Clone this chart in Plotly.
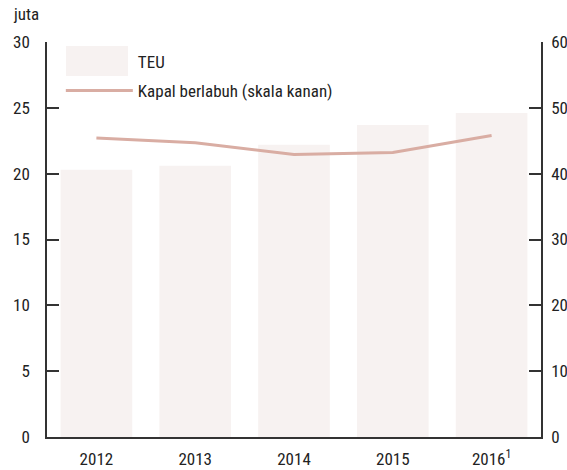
import plotly.graph_objects as go

years = ["2012", "2013", "2014", "2015", "2016<sup>1</sup>"]
teu = [20.3, 20.6, 22.2, 23.7, 24.6]
kapal = [45.4, 44.7, 42.9, 43.2, 45.8]

FONT = "Roboto Condensed, Arial Narrow, Liberation Sans Narrow, sans-serif"
AX = "#333333"
BAR = "#f7f2f1"

fig = go.Figure()
fig.add_trace(go.Bar(x=years, y=teu, name="TEU", marker=dict(color=BAR, line=dict(width=0)),
                     width=0.725, yaxis="y", legend="legend"))
fig.add_trace(go.Scatter(x=years, y=kapal, name="Kapal berlabuh (skala kanan)", mode="lines",
                         line=dict(color="#d9ada3", width=3), yaxis="y2", legend="legend2"))

leg = dict(xanchor="left", yanchor="middle", bgcolor="rgba(0,0,0,0)",
           font=dict(size=17), itemwidth=67)

fig.update_layout(
    width=567, height=470,
    margin=dict(l=47, r=26, t=42, b=33),
    paper_bgcolor="white", plot_bgcolor="white",
    font=dict(family=FONT, size=17, color="#222222"),
    showlegend=True,
    legend=dict(x=0.028, y=0.949, **leg),
    legend2=dict(x=0.028, y=0.876, **leg),
    xaxis=dict(showline=True, linecolor=AX, linewidth=1.5, ticks="", showgrid=False,
               ticklabelstandoff=6, automargin=False),
    yaxis=dict(range=[0, 30], dtick=5, showline=True, linecolor=AX, linewidth=1.5,
               ticks="inside", ticklen=12, tickwidth=1.5, tickcolor=AX, showgrid=False,
               zeroline=False, ticklabelstandoff=12, automargin=False),
    yaxis2=dict(range=[0, 60], dtick=10, overlaying="y", side="right", showline=True,
                linecolor=AX, linewidth=1.5, ticks="inside", ticklen=12, tickwidth=1.5,
                tickcolor=AX, showgrid=False, zeroline=False, ticklabelstandoff=5,
                automargin=False),
    shapes=[dict(type="rect", xref="paper", yref="paper", x0=0.0385, x1=0.164,
                 y0=0.914, y1=0.990, fillcolor=BAR, line=dict(width=0), layer="below")],
    annotations=[dict(text="juta", xref="paper", yref="paper", x=-0.072, y=1.0, yshift=40,
                      xanchor="left", yanchor="top", showarrow=False, font=dict(size=17))],
)

fig.write_html("out.html", config={"displayModeBar": False},
               post_script="document.body.style.margin='0';")
